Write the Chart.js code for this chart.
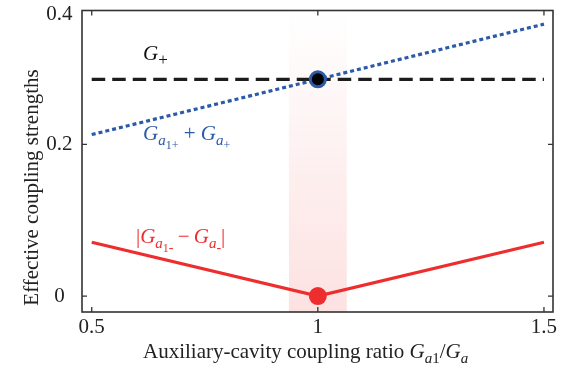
<!DOCTYPE html>
<html>
<head>
<meta charset="utf-8">
<script src="https://cdn.jsdelivr.net/npm/chart.js@4.4.1/dist/chart.umd.min.js"></script>
<style>
  html, body { margin: 0; background: #fff; }
  #wrap { width: 572px; height: 375px; }
</style>
</head>
<body>
<div id="wrap"><canvas id="c"></canvas></div>
<script>
// values
const ratio = [0.5, 1, 1.5];
const gPlus = [0.3, 0.3, 0.3];
const gSum = [0.215, 0.3, 0.385];
const gDiff = [0.071, 0, 0.071];
const markBlue = [{ x: 1, y: 0.3 }];
const markRed = [{ x: 1, y: 0 }];
const band = [0.936, 1.064];
const xTicks = [0.5, 1, 1.5];
const yTicks = [0, 0.2, 0.4];

const FONT = '"Liberation Serif", "Times New Roman", serif';
const RED = '#ee2e2e';
const BLUE = '#2a5aa8';

// the y axis of the original is squeezed above 0.2
const BREAK = 0.2, SQUEEZE = 0.856;
const warp = v => v <= BREAK ? v : BREAK + (v - BREAK) * SQUEEZE;

class SqueezedScale extends Chart.LinearScale {
  static id = 'squeezed';
  static defaults = Chart.LinearScale.defaults;
  getPixelForValue(v) {
    return super.getPixelForValue(warp(v));
  }
}
Chart.register(SqueezedScale);

const pairs = ys => ratio.map((x, i) => ({ x, y: ys[i] }));

// draws text runs with italics / subscripts
function rich(ctx, x, y, parts, color) {
  ctx.save();
  ctx.fillStyle = color;
  ctx.textAlign = 'left';
  ctx.textBaseline = 'alphabetic';
  for (const [txt, size, italic, dy] of parts) {
    ctx.font = `${italic ? 'italic ' : ''}${size}px ${FONT}`;
    ctx.fillText(txt, x, y + dy);
    x += ctx.measureText(txt).width;
  }
  ctx.restore();
}

const bandPlugin = {
  id: 'band',
  beforeDatasetsDraw(chart) {
    const { ctx, chartArea: a, scales: { x } } = chart;
    const g = ctx.createLinearGradient(0, a.bottom, 0, a.top);
    g.addColorStop(0, 'rgba(238,46,46,0.14)');
    g.addColorStop(1, 'rgba(238,46,46,0)');
    ctx.save();
    ctx.fillStyle = g;
    const x0 = x.getPixelForValue(band[0]), x1 = x.getPixelForValue(band[1]);
    ctx.fillRect(x0, a.top, x1 - x0, a.bottom - a.top);
    ctx.restore();
  }
};

const framePlugin = {
  id: 'frame',
  afterDraw(chart) {
    const { ctx, chartArea: a, scales: { x, y } } = chart;
    ctx.save();
    ctx.strokeStyle = '#333';
    ctx.lineWidth = 1.6;
    ctx.strokeRect(a.left, a.top, a.right - a.left, a.bottom - a.top);
    ctx.lineWidth = 1.3;
    ctx.beginPath();
    for (const t of xTicks) {
      const px = x.getPixelForValue(t);
      ctx.moveTo(px, a.bottom); ctx.lineTo(px, a.bottom - 5);
      ctx.moveTo(px, a.top); ctx.lineTo(px, a.top + 5);
    }
    for (const t of yTicks) {
      const py = y.getPixelForValue(t);
      if (py - a.top < 6) continue;
      ctx.moveTo(a.left, py); ctx.lineTo(a.left + 5, py);
      ctx.moveTo(a.right, py); ctx.lineTo(a.right - 5, py);
    }
    ctx.stroke();

    // axis titles
    rich(ctx, 143, 358, [
      ['Auxiliary-cavity coupling ratio ', 21, false, 0],
      ['G', 21, true, 0], ['a', 15, true, 5], ['1', 15, false, 5],
      ['/', 21, false, 0],
      ['G', 21, true, 0], ['a', 15, true, 5]
    ], '#222');
    ctx.save();
    ctx.translate(38, 187.5);
    ctx.rotate(-Math.PI / 2);
    ctx.font = `21px ${FONT}`;
    ctx.fillStyle = '#222';
    ctx.textAlign = 'center';
    ctx.fillText('Effective coupling strengths', 0, 0);
    ctx.restore();

    // curve labels
    rich(ctx, 143, 60, [['G', 21, true, 0], ['+', 17, false, 5]], '#111');
    rich(ctx, 143, 140, [
      ['G', 21, true, 0], ['a', 15, true, 5], ['1+', 12, false, 9],
      [' + ', 21, false, 0],
      ['G', 21, true, 0], ['a', 15, true, 5], ['+', 12, false, 9]
    ], BLUE);
    rich(ctx, 136, 243, [
      ['|', 21, false, 0],
      ['G', 21, true, 0], ['a', 15, true, 5], ['1', 12, false, 9], ['-', 14, false, 9],
      ['\u2009\u2212\u2009', 21, false, 0],
      ['G', 21, true, 0], ['a', 15, true, 5], ['-', 14, false, 9],
      ['|', 21, false, 0]
    ], RED);
    ctx.restore();
  }
};

new Chart(document.getElementById('c'), {
  type: 'line',
  data: {
    datasets: [
      {
        data: markBlue, showLine: false,
        pointRadius: 7.5, pointBorderWidth: 3,
        pointBackgroundColor: '#000', pointBorderColor: BLUE
      },
      {
        data: markRed, showLine: false,
        pointRadius: 9, pointBorderWidth: 0,
        pointBackgroundColor: RED, pointBorderColor: RED
      },
      {
        data: pairs(gSum), borderColor: BLUE, borderWidth: 3.2,
        borderDash: [4, 3], pointRadius: 0
      },
      {
        data: pairs(gPlus), borderColor: '#1c1c1c', borderWidth: 3.2,
        borderDash: [13.5, 7], pointRadius: 0
      },
      {
        data: pairs(gDiff), borderColor: RED, borderWidth: 3.2, pointRadius: 0
      }
    ]
  },
  options: {
    responsive: true,
    maintainAspectRatio: false,
    animation: false,
    layout: { padding: { top: 8, right: 19, left: 0, bottom: 0 } },
    plugins: { legend: { display: false }, tooltip: { enabled: false } },
    scales: {
      x: {
        type: 'linear', min: 0.4785, max: 1.52, bounds: 'data',
        grid: { display: false, drawTicks: false },
        border: { display: false },
        afterBuildTicks: s => { s.ticks = xTicks.map(value => ({ value })); },
        afterFit: s => { s.height = 63; s.paddingLeft = 0; s.paddingRight = 0; },
        ticks: {
          autoSkip: false, maxRotation: 0, padding: 3, color: '#222',
          font: { family: FONT, size: 21 },
          callback: v => String(v)
        }
      },
      y: {
        type: 'squeezed', min: -0.021, max: warp(0.406), bounds: 'data',
        grid: { display: false, drawTicks: false },
        border: { display: false },
        afterBuildTicks: s => { s.ticks = yTicks.map(value => ({ value })); },
        afterFit: s => { s.width = 82; s.paddingTop = 0; s.paddingBottom = 0; },
        ticks: {
          autoSkip: false, padding: 9.5, crossAlign: 'center', color: '#222',
          font: { family: FONT, size: 21 },
          callback: v => String(v)
        }
      }
    }
  },
  plugins: [bandPlugin, framePlugin]
});
</script>
</body>
</html>
